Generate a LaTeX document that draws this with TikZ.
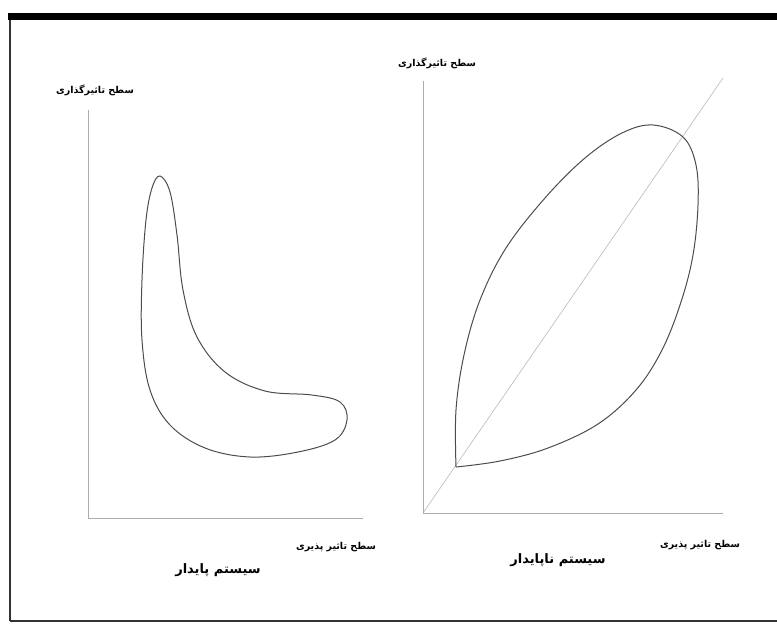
\documentclass[tikz,border=0pt]{standalone}
\usepackage{fontspec}
\newfontfamily\farsi[Script=Arabic]{DejaVu Sans}
\TeXXeTstate=1
\begin{document}
\begin{tikzpicture}[x=1pt, y=-1pt,
  axis/.style={draw=gray!65, line width=0.9pt},
  curve/.style={draw=black!70, line width=1pt},
  diag/.style={draw=gray!55, line width=0.6pt},
  lbl/.style={font=\farsi\bfseries\fontsize{9.5}{11}\selectfont, inner sep=1pt},
  ttl/.style={font=\farsi\bfseries\fontsize{13}{15}\selectfont, inner sep=1pt}
]
  \useasboundingbox (0,0) rectangle (777,624);
  % frame
  \draw[black!80, line width=2.5pt] (10,16) -- (10,621);
  \draw[black!80, line width=1.6pt] (10,621) -- (790,621);
  \draw[black, line width=7pt] (8,16) -- (790,16);

  % stable system
  \coordinate (o1) at (88,518);
  \coordinate (y1) at (88,110);
  \coordinate (x1) at (363,518);
  \draw[axis] (y1) -- (o1) -- (x1);
  \draw[curve] plot[smooth cycle, tension=0.6] coordinates {
    (160,176) (170,192) (177,235) (183,290) (197,337) (225,372) (265,391)
    (312,395) (340,402) (347,420) (335,440) (298,452) (250,457) (205,448)
    (170,425) (150,390) (142,340) (142,280) (146,220) (152,188)};
  \node[lbl] (yl1) at (95,90) {\beginR سطح تاثیرگذاری\endR};
  \node[lbl] (xl1) at (336,547) {\beginR سطح تاثیر پذیری\endR};
  \node[ttl] (t1) at (218,570) {\beginR سیستم پایدار\endR};

  % unstable system
  \coordinate (o2) at (423,513);
  \coordinate (y2) at (423,81);
  \coordinate (x2) at (723,513);
  \coordinate (d2) at (723,78);
  \coordinate (c2) at (456,467);
  \draw[axis] (y2) -- (o2) -- (x2);
  \draw[diag] (o2) -- (d2);
  \draw[curve] plot[smooth, tension=0.6] coordinates {
    (c2) (456,410) (464,355) (480,300) (506,248) (545,198) (585,158)
    (622,133) (653,125) (683,137) (696,165) (698,205) (693,255) (681,302)
    (662,350) (636,390) (598,424) (548,448) (500,461) (c2)};
  \node[lbl] (yl2) at (437,63) {\beginR سطح تاثیرگذاری\endR};
  \node[lbl] (xl2) at (700,545) {\beginR سطح تاثیر پذیری\endR};
  \node[ttl] (t2) at (558,560) {\beginR سیستم ناپایدار\endR};
\end{tikzpicture}
\end{document}
